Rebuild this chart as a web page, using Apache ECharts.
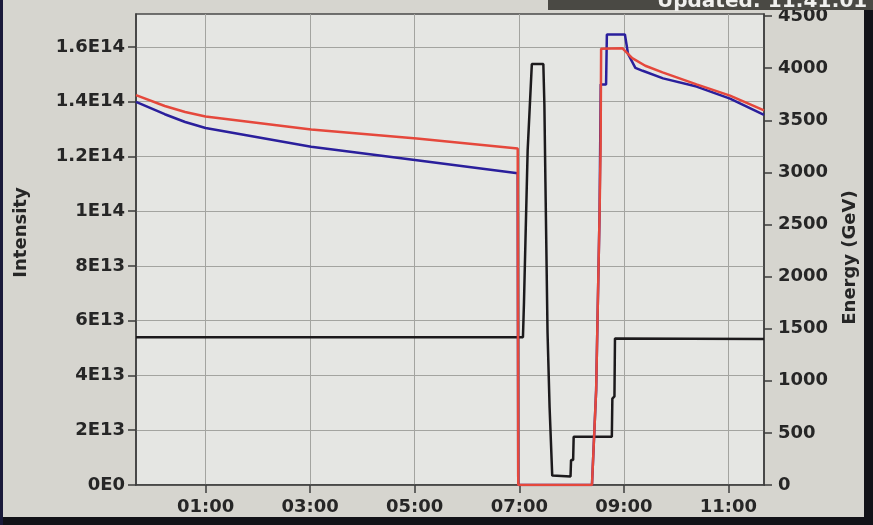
<!DOCTYPE html>
<html>
<head>
<meta charset="utf-8">
<style>
  html, body { margin: 0; padding: 0; background: #d6d5cf; }
  #chart { width: 873px; height: 525px; }
</style>
<script src="https://cdn.jsdelivr.net/npm/echarts@6/dist/echarts.min.js"></script>
</head>
<body>
<div id="chart"></div>
<script>
// ---- data (time in hours after midnight; negative = before midnight) ----
const beam1Time = [-0.33, 0.22, 0.61, 1.0, 3.02, 5.04, 6.97, 6.98, 8.39, 8.47, 8.535, 8.558, 8.66, 8.675, 9.02, 9.08, 9.22, 9.36, 9.75, 10.39, 11.03, 11.68];
const beam1Intensity = [1.399e14, 1.354e14, 1.3256e14, 1.3035e14, 1.2356e14, 1.1857e14, 1.1384e14, 0, 0, 3.46e13, 9.89e13, 1.463e14, 1.463e14, 1.645e14, 1.645e14, 1.574e14, 1.523e14, 1.5126e14, 1.485e14, 1.455e14, 1.411e14, 1.3515e14];

const beam2Time = [-0.33, 0.22, 0.61, 1.0, 3.02, 5.04, 6.97, 6.98, 8.39, 8.47, 8.535, 8.555, 8.565, 8.97, 9.16, 9.41, 9.74, 10.39, 11.03, 11.68];
const beam2Intensity = [1.4236e14, 1.384e14, 1.362e14, 1.346e14, 1.298e14, 1.2655e14, 1.229e14, 0, 0, 3.46e13, 9.89e13, 1.23e14, 1.593e14, 1.595e14, 1.559e14, 1.531e14, 1.507e14, 1.463e14, 1.422e14, 1.368e14];

const energyTime = [-0.33, 7.07, 7.09, 7.10, 7.12, 7.16, 7.24, 7.46, 7.48, 7.50, 7.54, 7.58, 7.63, 7.98, 7.99, 8.03, 8.04, 8.77, 8.78, 8.82, 8.83, 11.68];
const energyGeV = [1418, 1418, 1754, 1754, 2386, 3211, 4039, 4041, 3652, 2905, 1469, 741, 90, 81, 239, 239, 462, 464, 829, 850, 1405, 1400];

const timeTicks = [1, 3, 5, 7, 9, 11];
const timeTickLabels = ['01:00', '03:00', '05:00', '07:00', '09:00', '11:00'];
const intensityTicks = [0, 2e13, 4e13, 6e13, 8e13, 1e14, 1.2e14, 1.4e14, 1.6e14];
const intensityTickLabels = ['0E0', '2E13', '4E13', '6E13', '8E13', '1E14', '1.2E14', '1.4E14', '1.6E14'];
const energyTicks = [0, 500, 1000, 1500, 2000, 2500, 3000, 3500, 4000, 4500];
const energyTickLabels = ['0', '500', '1000', '1500', '2000', '2500', '3000', '3500', '4000', '4500'];

const updatedText = 'Updated: 11:41:01';

function zip(xs, ys) { return xs.map((x, i) => [x, ys[i]]); }
function lookup(ticks, labels) {
  return function (v) {
    for (let i = 0; i < ticks.length; i++) {
      if (Math.abs(ticks[i] - v) <= Math.abs(ticks[1] - ticks[0]) * 1e-6) return labels[i];
    }
    return '';
  };
}

const FONT = 'DejaVu Sans';
const TXT = '#262626';
const AX = '#3c3c3c';

const labelStyle = { fontFamily: FONT, fontWeight: 'bold', fontSize: 18, color: TXT };

const chart = echarts.init(document.getElementById('chart'), null, { renderer: 'canvas' });
chart.setOption({
  backgroundColor: '#d6d5cf',
  animation: false,
  grid: {
    left: 136, right: 109, top: 14, bottom: 40,
    show: true, backgroundColor: '#e5e6e3', borderColor: '#4a4a4a', borderWidth: 1.5
  },
  xAxis: {
    type: 'value', min: -0.33, max: 11.68,
    axisLine: { show: true, onZero: false, lineStyle: { color: AX, width: 1.5 } },
    axisTick: { show: true, customValues: timeTicks, length: 8, lineStyle: { color: AX, width: 1.5 } },
    axisLabel: Object.assign({ customValues: timeTicks, margin: 13, formatter: lookup(timeTicks, timeTickLabels) }, labelStyle),
    splitLine: { show: true, lineStyle: { color: '#a3a4a0', width: 1 } }
  },
  yAxis: [
    {
      type: 'value', position: 'left', min: 0, max: 1.72e14,
      name: 'Intensity', nameLocation: 'middle', nameRotate: 90, nameGap: 106,
      nameTextStyle: { fontFamily: FONT, fontWeight: 'bold', fontSize: 18, color: TXT, padding: [0, 0, 0, 34] },
      axisLine: { show: true, onZero: false, lineStyle: { color: AX, width: 1.5 } },
      axisTick: { show: true, customValues: intensityTicks, length: 8, lineStyle: { color: AX, width: 1.5 } },
      axisLabel: Object.assign({ customValues: intensityTicks, margin: 11, formatter: lookup(intensityTicks, intensityTickLabels) }, labelStyle),
      splitLine: { show: true, lineStyle: { color: '#a3a4a0', width: 1 } }
    },
    {
      type: 'value', position: 'right', min: 0, max: 4520,
      name: 'Energy (GeV)', nameLocation: 'middle', nameRotate: 90, nameGap: 77,
      nameTextStyle: { fontFamily: FONT, fontWeight: 'bold', fontSize: 18, color: TXT, padding: [0, 16, 0, 0] },
      axisLine: { show: true, onZero: false, lineStyle: { color: AX, width: 1.5 } },
      axisTick: { show: true, customValues: energyTicks, length: 8, lineStyle: { color: AX, width: 1.5 } },
      axisLabel: Object.assign({ customValues: energyTicks, margin: 14, formatter: lookup(energyTicks, energyTickLabels) }, labelStyle),
      splitLine: { show: false }
    }
  ],
  series: [
    {
      name: 'Energy', type: 'line', yAxisIndex: 1, showSymbol: false,
      data: zip(energyTime, energyGeV),
      lineStyle: { color: '#1c1a1c', width: 2.5 }, itemStyle: { color: '#1c1a1c' }
    },
    {
      name: 'Beam 1', type: 'line', yAxisIndex: 0, showSymbol: false,
      data: zip(beam1Time, beam1Intensity),
      lineStyle: { color: '#2a1f9c', width: 2.5 }, itemStyle: { color: '#2a1f9c' }
    },
    {
      name: 'Beam 2', type: 'line', yAxisIndex: 0, showSymbol: false,
      data: zip(beam2Time, beam2Intensity),
      lineStyle: { color: '#e5483c', width: 2.5 }, itemStyle: { color: '#e5483c' }
    }
  ],
  graphic: [
    { type: 'rect', shape: { x: 548, y: 0, width: 325, height: 10 }, style: { fill: '#4a4944' }, z: 10 },
    { type: 'text', x: 657, y: -8, style: { text: updatedText, fill: '#f0f0ee', font: 'bold 20px "DejaVu Sans"', verticalAlign: 'top' }, z: 11 },
    { type: 'rect', shape: { x: 864, y: 10, width: 9, height: 515 }, style: { fill: '#121218' }, z: 10 },
    { type: 'rect', shape: { x: 0, y: 517, width: 873, height: 8 }, style: { fill: '#121218' }, z: 10 },
    { type: 'rect', shape: { x: 0, y: 0, width: 3, height: 525 }, style: { fill: '#1a1a3a' }, z: 10 }
  ]
});
</script>
</body>
</html>
